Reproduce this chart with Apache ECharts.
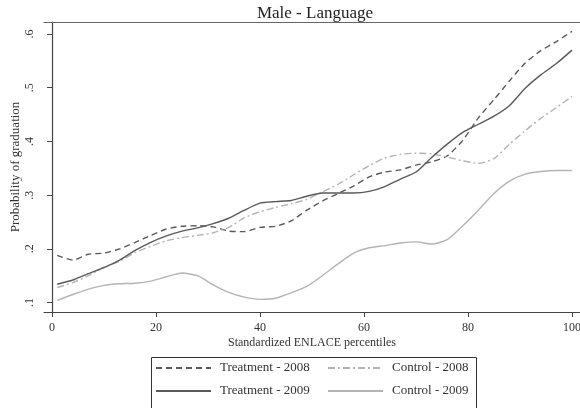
<!DOCTYPE html>
<html><head><meta charset="utf-8">
<script src="https://cdn.jsdelivr.net/npm/echarts@6/dist/echarts.min.js"></script>
<style>html,body{margin:0;padding:0;background:#fff}#c{width:580px;height:408px}</style>
</head><body><div id="c"></div>
<script>
var percentiles = [1,4,7,10,13,16,19,22,25,28,31,34,37,40,43,46,49,52,55,58,61,64,67,70,73,76,79,82,85,88,91,94,97,100];
var treatment2008 = [0.188,0.179,0.190,0.192,0.200,0.212,0.225,0.237,0.242,0.243,0.241,0.233,0.232,0.240,0.242,0.252,0.272,0.289,0.303,0.317,0.334,0.343,0.347,0.356,0.362,0.373,0.402,0.444,0.478,0.513,0.546,0.569,0.586,0.605];
var treatment2009 = [0.134,0.142,0.154,0.165,0.179,0.197,0.212,0.224,0.233,0.239,0.247,0.257,0.272,0.285,0.288,0.290,0.298,0.304,0.304,0.304,0.307,0.316,0.330,0.343,0.370,0.395,0.417,0.432,0.447,0.467,0.499,0.524,0.545,0.570];
var control2008 = [0.128,0.137,0.150,0.166,0.177,0.193,0.205,0.215,0.221,0.225,0.230,0.240,0.258,0.269,0.277,0.284,0.292,0.306,0.320,0.338,0.355,0.369,0.376,0.378,0.377,0.371,0.364,0.359,0.368,0.395,0.420,0.443,0.463,0.484];
var control2009 = [0.104,0.115,0.125,0.132,0.135,0.136,0.140,0.148,0.155,0.150,0.133,0.119,0.110,0.106,0.108,0.118,0.130,0.150,0.172,0.192,0.202,0.206,0.211,0.213,0.209,0.217,0.243,0.272,0.303,0.326,0.339,0.344,0.346,0.346];
var xTicks = [0,20,40,60,80,100];
var yTicks = [0.1,0.2,0.3,0.4,0.5,0.6];
var seriesNames = ['Treatment - 2008','Control - 2008','Treatment - 2009','Control - 2009'];

function pairs(arr){ return percentiles.map(function(x,i){ return [x, arr[i]]; }); }
var FONT = '"Liberation Serif", "DejaVu Serif", serif';
var TXT = '#333';
var chart = echarts.init(document.getElementById('c'), null, {renderer:'canvas'});
chart.setOption({
  animation:false,
  backgroundColor:'#fff',
  textStyle:{fontFamily:FONT},
  title:{text:'Male - Language', left:310, top:0, textAlign:'center',
    textStyle:{fontFamily:FONT, fontSize:17, fontWeight:'normal', color:'#222'}},
  grid:{left:44, right:0, top:22, bottom:96, containLabel:false, outerBoundsMode:'none'},
  xAxis:[{
    type:'value', min:-1.54, max:101.54,
    name:'Standardized ENLACE percentiles', nameLocation:'middle', nameGap:25, nameMoveOverlap:false,
    nameTextStyle:{fontFamily:FONT, fontSize:12, color:TXT},
    axisLine:{show:true, lineStyle:{color:'#444', width:1.2}},
    axisTick:{show:true, length:5, customValues:xTicks, lineStyle:{color:'#444'}},
    axisLabel:{customValues:xTicks, margin:10, fontFamily:FONT, fontSize:12, color:TXT},
    splitLine:{show:false}
  },{
    type:'value', min:-1.54, max:101.54, position:'top',
    axisLine:{show:true, lineStyle:{color:'#666', width:1.2}},
    axisTick:{show:false}, axisLabel:{show:false}, splitLine:{show:false}
  }],
  yAxis:{
    type:'value', min:0.0824, max:0.6224,
    name:'Probability of graduation', nameLocation:'middle', nameGap:22, nameMoveOverlap:false,
    nameTextStyle:{fontFamily:FONT, fontSize:13, color:TXT},
    axisLine:{show:true, lineStyle:{color:'#444', width:1.2}},
    axisTick:{show:true, length:5, customValues:yTicks, lineStyle:{color:'#444'}},
    axisLabel:{customValues:yTicks, rotate:90, margin:8, fontFamily:FONT, fontSize:12, color:TXT,
      formatter:function(v){ return v.toFixed(1).replace(/^0/,''); }},
    splitLine:{show:false}
  },
  legend:{
    left:150, top:355, orient:'horizontal', width:340,
    itemWidth:55, itemHeight:14, itemGap:7,
    itemStyle:{opacity:0},
    data:[
      {name:seriesNames[0], textStyle:{width:100}},
      {name:seriesNames[1]},
      {name:seriesNames[2], textStyle:{width:100}},
      {name:seriesNames[3]}
    ],
    textStyle:{fontFamily:FONT, fontSize:13, color:TXT, lineHeight:16, padding:[0,0,0,4]}
  },
  graphic:[{type:'rect', left:149, top:355, shape:{width:325, height:52},
    style:{fill:'none', stroke:'#333', lineWidth:1}}],
  series:[
    {name:seriesNames[0], type:'line', data:pairs(treatment2008), showSymbol:false, symbol:'none', smooth:0.2,
      lineStyle:{color:'#5a5a5a', width:1.4, type:[6,4]}, itemStyle:{color:'#5a5a5a'}},
    {name:seriesNames[1], type:'line', data:pairs(control2008), showSymbol:false, symbol:'none', smooth:0.2,
      lineStyle:{color:'#b4b4b4', width:1.4, type:[7,3,2,3]}, itemStyle:{color:'#b4b4b4'}},
    {name:seriesNames[2], type:'line', data:pairs(treatment2009), showSymbol:false, symbol:'none', smooth:0.2,
      lineStyle:{color:'#5a5a5a', width:1.4}, itemStyle:{color:'#5a5a5a'}},
    {name:seriesNames[3], type:'line', data:pairs(control2009), showSymbol:false, symbol:'none', smooth:0.2,
      lineStyle:{color:'#b4b4b4', width:1.4}, itemStyle:{color:'#b4b4b4'}}
  ]
});
</script></body></html>
